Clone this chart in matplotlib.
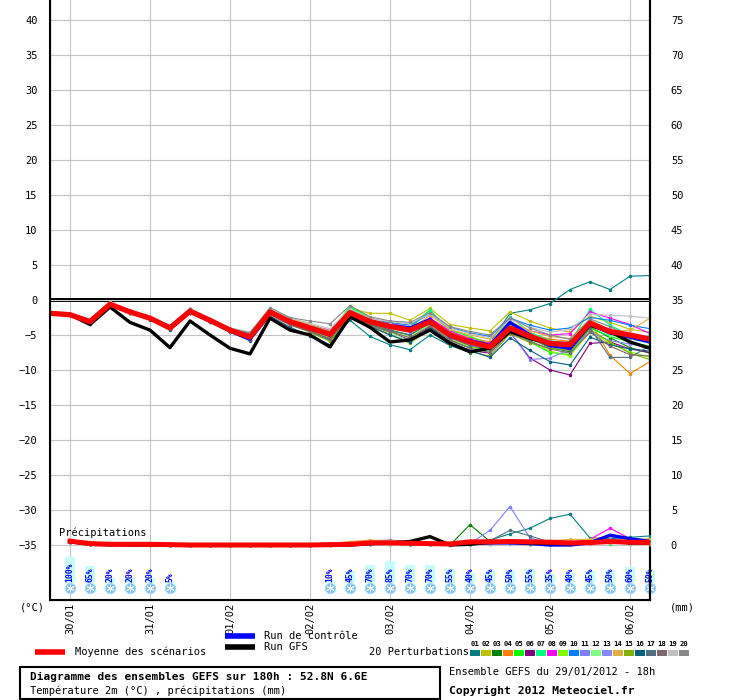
import matplotlib
matplotlib.use("Agg")
import matplotlib.pyplot as plt
from matplotlib.patches import Rectangle
from matplotlib.lines import Line2D

plt.rcParams['font.family'] = ['DejaVu Sans Mono', 'DejaVu Sans']

# ---------------- data ----------------
hours = list(range(0, 181, 6))          # 29/01 18h .. +180h
day_ticks = [6, 30, 54, 78, 102, 126, 150, 174]
day_labels = ["30/01", "31/01", "01/02", "02/02", "03/02", "04/02", "05/02", "06/02"]

temp_mean = [-1.9, -2.1, -3.1, -0.6, -1.7, -2.6, -4.0, -1.6, -2.9, -4.3, -5.3,
             -1.7, -3.1, -4.0, -4.9, -1.8, -3.1, -3.8, -4.3, -3.1, -5.0, -6.0, -6.7, -4.0,
             -5.2, -6.2, -6.4, -3.3, -4.5, -5.0, -5.6]
temp_gfs = [-1.9, -2.1, -3.5, -1.0, -3.2, -4.3, -6.8, -3.0, -5.0, -6.9, -7.7,
            -2.6, -4.3, -5.0, -6.7, -2.4, -3.9, -6.0, -5.7, -4.3, -6.2, -7.4, -6.9, -4.5,
            -5.5, -6.2, -6.2, -3.6, -4.5, -6.0, -6.9]
temp_ctrl = [-1.9, -2.1, -3.0, -0.6, -1.7, -2.6, -3.9, -1.5, -2.9, -4.4, -5.6,
             -1.8, -3.0, -4.1, -5.0, -1.8, -3.0, -3.7, -4.0, -2.8, -5.2, -5.8, -6.5, -3.2,
             -5.0, -6.5, -6.9, -3.5, -4.7, -5.3, -6.0]

temp_m01 = [-1.9, -2.1, -3.0, -0.5, -1.6, -2.5, -3.8, -1.4, -2.8, -4.2, -5.0, -1.9, -3.3, -4.6, -5.8, -2.9, -5.2, -6.4, -7.1, -5.0, -6.5, -7.5, -6.0, -1.9, -1.4, -0.5, 1.5, 2.6, 1.5, 3.4, 3.5]
temp_m02 = [-1.9, -2.0, -2.8, -0.4, -1.6, -2.5, -3.7, -1.3, -2.8, -4.1, -4.8, -1.4, -2.8, -3.5, -4.5, -1.2, -1.9, -1.9, -2.9, -1.2, -3.5, -4.0, -4.4, -1.7, -3.0, -4.0, -4.6, -2.3, -3.2, -4.2, -4.6]
temp_m03 = [-1.9, -2.1, -3.2, -0.7, -1.8, -2.7, -4.1, -1.7, -3.0, -4.4, -5.5, -1.6, -3.2, -4.2, -5.3, -1.5, -3.4, -4.3, -5.0, -3.2, -5.8, -6.8, -7.0, -3.6, -5.5, -6.8, -7.4, -3.8, -5.4, -6.8, -7.6]
temp_m04 = [-1.9, -2.1, -3.1, -0.6, -1.7, -2.6, -3.9, -1.5, -2.9, -4.3, -5.2, -1.8, -3.0, -3.8, -4.6, -1.7, -2.9, -3.5, -4.0, -2.6, -4.6, -5.4, -6.0, -3.4, -4.8, -5.6, -5.9, -3.0, -7.9, -10.5, -8.8]
temp_m05 = [-1.9, -2.0, -2.8, -0.4, -1.6, -2.5, -3.7, -1.3, -2.8, -4.1, -4.8, -1.3, -3.0, -4.0, -4.7, -0.9, -2.6, -3.4, -4.0, -1.5, -4.3, -5.2, -6.3, -3.2, -6.0, -7.5, -7.8, -4.0, -5.2, -6.0, -6.6]
temp_m06 = [-1.9, -2.1, -3.3, -0.8, -1.8, -2.7, -4.2, -1.8, -3.1, -4.5, -5.7, -1.7, -3.4, -4.4, -5.6, -2.0, -3.6, -4.6, -5.7, -3.8, -6.0, -7.2, -7.6, -4.6, -8.3, -10.0, -10.7, -6.2, -6.0, -7.0, -7.5]
temp_m07 = [-1.9, -2.1, -3.0, -0.5, -1.6, -2.5, -3.8, -1.4, -2.8, -4.2, -5.0, -1.5, -2.9, -3.8, -4.8, -1.1, -2.8, -3.4, -3.8, -1.4, -4.8, -5.8, -6.4, -2.4, -4.6, -5.8, -6.2, -1.3, -3.6, -5.0, -5.8]
temp_m08 = [-1.9, -2.1, -3.1, -0.6, -1.7, -2.6, -3.9, -1.5, -2.9, -4.3, -5.2, -1.6, -2.8, -3.6, -4.3, -1.6, -2.6, -3.3, -3.9, -2.6, -4.4, -5.6, -6.2, -3.3, -4.4, -5.0, -4.8, -1.7, -2.6, -3.5, -4.8]
temp_m09 = [-1.9, -2.1, -3.2, -0.7, -1.8, -2.7, -4.1, -1.7, -3.0, -4.4, -5.5, -1.8, -3.3, -4.3, -5.4, -2.3, -3.6, -4.5, -5.3, -3.5, -5.6, -6.6, -7.4, -3.9, -5.8, -7.3, -8.0, -4.5, -6.2, -7.4, -8.2]
temp_m10 = [-1.9, -2.0, -2.8, -0.4, -1.6, -2.5, -3.7, -1.3, -2.8, -4.1, -4.8, -1.5, -2.9, -3.6, -4.4, -1.4, -2.8, -3.2, -3.6, -2.0, -3.9, -4.7, -5.2, -2.6, -3.6, -4.3, -4.0, -2.5, -2.9, -3.6, -4.1]
temp_m11 = [-1.9, -2.1, -3.1, -0.6, -1.7, -2.6, -3.9, -1.5, -2.9, -4.3, -5.2, -1.7, -3.0, -3.9, -4.8, -1.8, -3.4, -4.0, -4.6, -3.4, -5.4, -6.4, -7.0, -4.5, -8.5, -8.3, -7.0, -4.6, -5.8, -6.3, -6.8]
temp_m12 = [-1.9, -2.1, -3.2, -0.7, -1.8, -2.7, -4.1, -1.7, -3.0, -4.4, -5.5, -1.6, -3.2, -4.1, -5.0, -1.6, -3.2, -4.6, -5.9, -3.0, -5.2, -6.2, -7.2, -3.5, -5.7, -6.5, -6.8, -3.5, -5.0, -5.6, -6.2]
temp_m13 = [-1.9, -2.1, -3.0, -0.5, -1.6, -2.5, -3.8, -1.4, -2.8, -4.2, -5.0, -1.8, -3.1, -3.9, -4.9, -1.9, -3.1, -3.9, -4.5, -3.0, -5.2, -6.0, -6.6, -4.2, -5.0, -5.9, -6.3, -3.6, -4.7, -5.4, -6.0]
temp_m14 = [-1.9, -2.0, -2.8, -0.4, -1.6, -2.5, -3.7, -1.3, -2.8, -4.0, -4.6, -1.4, -2.7, -3.5, -4.4, -1.5, -2.6, -3.6, -4.2, -2.2, -4.2, -5.0, -5.6, -3.1, -4.4, -5.2, -5.5, -2.8, -4.5, -4.3, -2.6]
temp_m15 = [-1.9, -2.1, -3.3, -0.8, -1.8, -2.7, -4.2, -1.8, -3.1, -4.5, -5.7, -2.0, -3.5, -4.6, -5.9, -2.3, -3.7, -4.9, -6.2, -4.1, -6.3, -7.4, -8.0, -4.8, -6.1, -6.9, -7.2, -4.2, -6.0, -7.6, -8.5]
temp_m16 = [-1.9, -2.2, -3.4, -0.9, -1.9, -2.8, -4.3, -1.9, -3.2, -4.6, -5.8, -2.3, -3.9, -5.1, -6.4, -2.5, -3.8, -5.0, -6.0, -3.9, -6.0, -7.2, -8.2, -5.4, -7.2, -8.8, -9.3, -5.3, -6.4, -7.0, -7.3]
temp_m17 = [-1.9, -2.1, -3.1, -0.6, -1.7, -2.6, -4.0, -1.6, -2.9, -4.3, -5.3, -1.9, -3.4, -4.3, -5.2, -2.2, -3.5, -4.4, -5.0, -3.3, -5.4, -6.5, -7.1, -4.2, -5.6, -6.6, -7.1, -4.0, -8.2, -8.2, -6.5]
temp_m18 = [-1.9, -2.1, -3.3, -0.8, -1.8, -2.7, -4.2, -1.8, -3.1, -4.5, -5.7, -2.1, -3.6, -4.5, -5.5, -2.6, -3.7, -4.5, -5.4, -3.7, -5.7, -6.9, -7.5, -4.7, -5.9, -7.0, -7.6, -4.6, -6.6, -7.8, -8.0]
temp_m19 = [-1.9, -2.0, -2.7, -0.3, -1.5, -2.4, -3.6, -1.2, -2.7, -4.0, -4.6, -1.3, -2.6, -3.3, -4.1, -1.3, -2.7, -3.1, -3.4, -2.0, -4.0, -4.8, -5.4, -2.8, -3.9, -4.6, -4.2, -2.0, -2.2, -2.3, -2.6]
temp_m20 = [-1.9, -2.0, -2.8, -0.4, -1.5, -2.4, -3.7, -1.3, -2.7, -4.1, -4.7, -1.1, -2.5, -3.0, -3.4, -0.8, -2.4, -3.0, -3.2, -1.8, -3.8, -4.5, -5.0, -2.5, -4.0, -5.0, -5.6, -2.7, -3.8, -5.2, -6.0]

# precipitation (mm) for each 6h step from +6h to +180h
prec_mean = [0.55, 0.2, 0.1, 0.1, 0.1, 0.05, 0, 0, 0, 0, 0, 0, 0, 0.05, 0.1, 0.3, 0.3, 0.25, 0.2, 0.15, 0.45, 0.45, 0.5, 0.45, 0.4, 0.3, 0.35, 0.5, 0.4, 0.35]
prec_ctrl = [0.45, 0.15, 0.1, 0.1, 0.1, 0.05, 0, 0, 0, 0, 0, 0, 0, 0.0, 0.1, 0.2, 0.3, 0.3, 0.2, 0.1, 0.2, 0.3, 0.3, 0.2, 0.0, 0.0, 0.3, 1.4, 0.9, 0.5]
prec_gfs = [0.5, 0.1, 0.05, 0.0, 0.0, 0.0, 0, 0, 0, 0, 0, 0, 0, 0.0, 0.0, 0.2, 0.3, 0.5, 1.2, 0.0, 0.1, 0.4, 0.4, 0.3, 0.2, 0.2, 0.3, 0.5, 0.3, 0.3]
prec_m01 = [0.5, 0.2, 0.1, 0.1, 0.1, 0.0, 0, 0, 0, 0, 0, 0, 0, 0.1, 0.2, 0.2, 0.3, 0.2, 0.2, 0.2, 0.3, 0.7, 1.6, 2.4, 3.8, 4.4, 1.0, 0.9, 1.1, 1.3]
prec_m02 = [0.5, 0.1, 0.1, 0.1, 0.1, 0.0, 0, 0, 0, 0, 0, 0, 0, 0.1, 0.2, 0.3, 0.4, 0.3, 0.2, 0.2, 0.3, 0.3, 0.3, 0.2, 0.3, 0.3, 0.6, 0.8, 0.5, 0.4]
prec_m03 = [0.5, 0.2, 0.1, 0.1, 0.1, 0.1, 0, 0, 0, 0, 0, 0, 0, 0.1, 0.2, 0.3, 0.2, 0.2, 0.2, 0.0, 2.9, 0.5, 0.3, 0.3, 0.2, 0.2, 0.3, 0.5, 0.4, 0.3]
prec_m04 = [0.5, 0.1, 0.1, 0.1, 0.0, 0.0, 0, 0, 0, 0, 0, 0, 0, 0.0, 0.1, 0.5, 0.7, 0.4, 0.3, 0.2, 0.3, 0.3, 0.4, 0.3, 0.2, 0.2, 0.4, 0.6, 0.5, 0.8]
prec_m05 = [0.6, 0.2, 0.1, 0.1, 0.1, 0.0, 0, 0, 0, 0, 0, 0, 0, 0.1, 0.1, 0.3, 0.3, 0.2, 0.1, 0.1, 0.2, 0.2, 0.3, 0.2, 0.2, 0.2, 0.5, 0.2, 0.3, 0.3]
prec_m06 = [0.5, 0.1, 0.1, 0.1, 0.1, 0.1, 0, 0, 0, 0, 0, 0, 0, 0.0, 0.1, 0.2, 0.2, 0.3, 0.2, 0.1, 0.2, 0.4, 0.4, 0.3, 0.2, 0.2, 0.3, 0.4, 0.3, 0.2]
prec_m07 = [0.4, 0.2, 0.1, 0.1, 0.1, 0.0, 0, 0, 0, 0, 0, 0, 0, 0.1, 0.2, 0.2, 0.3, 0.2, 0.2, 0.1, 0.2, 0.2, 0.2, 0.3, 0.2, 0.2, 0.4, 0.6, 0.3, 0.3]
prec_m08 = [0.5, 0.2, 0.1, 0.1, 0.1, 0.0, 0, 0, 0, 0, 0, 0, 0, 0.1, 0.2, 0.3, 0.3, 0.2, 0.1, 0.1, 0.3, 0.3, 0.3, 0.2, 0.2, 0.3, 0.8, 2.4, 0.9, 0.5]
prec_m09 = [0.5, 0.1, 0.1, 0.1, 0.1, 0.0, 0, 0, 0, 0, 0, 0, 0, 0.1, 0.1, 0.2, 0.2, 0.2, 0.1, 0.1, 0.2, 0.3, 0.3, 0.2, 0.2, 0.3, 0.5, 0.3, 0.2, 0.2]
prec_m10 = [0.6, 0.2, 0.1, 0.1, 0.1, 0.0, 0, 0, 0, 0, 0, 0, 0, 0.1, 0.2, 0.3, 0.3, 0.2, 0.2, 0.2, 0.3, 0.4, 0.3, 0.2, 0.2, 0.3, 0.6, 1.2, 0.8, 0.4]
prec_m11 = [0.5, 0.2, 0.1, 0.1, 0.1, 0.1, 0, 0, 0, 0, 0, 0, 0, 0.1, 0.2, 0.6, 0.7, 0.4, 0.2, 0.1, 0.2, 2.1, 5.5, 1.0, 0.2, 0.2, 0.4, 0.6, 0.4, 0.3]
prec_m12 = [0.5, 0.1, 0.1, 0.1, 0.1, 0.0, 0, 0, 0, 0, 0, 0, 0, 0.0, 0.1, 0.2, 0.2, 0.2, 0.1, 0.1, 0.2, 0.2, 0.2, 0.2, 0.2, 0.2, 0.3, 0.4, 0.3, 0.2]
prec_m13 = [0.5, 0.2, 0.1, 0.1, 0.1, 0.0, 0, 0, 0, 0, 0, 0, 0, 0.1, 0.2, 0.3, 0.6, 0.3, 0.2, 0.1, 0.3, 0.3, 0.3, 0.3, 0.2, 0.2, 0.5, 0.8, 0.6, 0.4]
prec_m14 = [0.5, 0.2, 0.1, 0.1, 0.1, 0.0, 0, 0, 0, 0, 0, 0, 0, 0.2, 0.5, 0.7, 0.6, 0.4, 0.3, 0.2, 0.3, 0.4, 0.4, 0.4, 0.6, 0.8, 0.8, 1.3, 0.8, 0.9]
prec_m15 = [0.4, 0.1, 0.1, 0.1, 0.0, 0.0, 0, 0, 0, 0, 0, 0, 0, 0.0, 0.1, 0.2, 0.2, 0.2, 0.1, 0.1, 0.2, 0.3, 0.3, 0.2, 0.2, 0.2, 0.4, 0.3, 0.2, 0.2]
prec_m16 = [0.5, 0.2, 0.1, 0.1, 0.1, 0.0, 0, 0, 0, 0, 0, 0, 0, 0.1, 0.1, 0.2, 0.3, 0.2, 0.1, 0.1, 0.2, 0.3, 0.4, 0.3, 0.2, 0.2, 0.3, 0.6, 0.5, 0.4]
prec_m17 = [0.5, 0.1, 0.1, 0.1, 0.1, 0.0, 0, 0, 0, 0, 0, 0, 0, 0.1, 0.2, 0.2, 0.3, 0.2, 0.1, 0.1, 0.2, 0.6, 2.1, 1.3, 0.4, 0.2, 0.3, 0.5, 0.3, 0.3]
prec_m18 = [0.5, 0.2, 0.1, 0.1, 0.1, 0.0, 0, 0, 0, 0, 0, 0, 0, 0.0, 0.1, 0.2, 0.2, 0.2, 0.1, 0.1, 0.2, 0.2, 0.3, 0.2, 0.2, 0.2, 0.3, 0.3, 0.2, 0.2]
prec_m19 = [0.4, 0.1, 0.1, 0.1, 0.1, 0.0, 0, 0, 0, 0, 0, 0, 0, 0.1, 0.1, 0.2, 0.2, 0.2, 0.1, 0.1, 0.1, 0.2, 0.2, 0.2, 0.1, 0.2, 0.3, 0.3, 0.2, 0.2]
prec_m20 = [0.5, 0.2, 0.1, 0.1, 0.1, 0.0, 0, 0, 0, 0, 0, 0, 0, 0.1, 0.2, 0.3, 0.3, 0.2, 0.2, 0.1, 0.2, 0.3, 0.3, 0.2, 0.2, 0.2, 0.3, 0.4, 0.3, 0.2]

# snow probability (%) per time step, 0 = no symbol
snow_pct = [0, 100, 65, 20, 20, 20, 5, 0, 0, 0, 0, 0, 0, 0, 10, 45, 70, 85, 70, 70,
            55, 40, 45, 50, 55, 35, 40, 45, 50, 60, 50]

member_labels = ["01", "02", "03", "04", "05", "06", "07", "08", "09", "10",
                 "11", "12", "13", "14", "15", "16", "17", "18", "19", "20"]
member_colors = ["#008080", "#C0C000", "#008000", "#FF8000", "#00FF00", "#800080",
                 "#00FF80", "#FF00FF", "#80FF00", "#0080FF", "#8080FF", "#80FF80",
                 "#8888FF", "#E0B040", "#80B000", "#006080", "#507080", "#806870",
                 "#C0C0C0", "#888888"]
temp_members = [temp_m01, temp_m02, temp_m03, temp_m04, temp_m05, temp_m06, temp_m07,
                temp_m08, temp_m09, temp_m10, temp_m11, temp_m12, temp_m13, temp_m14,
                temp_m15, temp_m16, temp_m17, temp_m18, temp_m19, temp_m20]
prec_members = [prec_m01, prec_m02, prec_m03, prec_m04, prec_m05, prec_m06, prec_m07,
                prec_m08, prec_m09, prec_m10, prec_m11, prec_m12, prec_m13, prec_m14,
                prec_m15, prec_m16, prec_m17, prec_m18, prec_m19, prec_m20]

# ---------------- figure ----------------
W, H = 740, 700
fig = plt.figure(figsize=(W / 100, H / 100), dpi=100)
fig.patch.set_facecolor("white")

def fx(px):
    return px / W

def fy(py):
    return 1 - py / H

ax = fig.add_axes([fx(50), fy(600), 600 / W, 600 / H])
YL = 600 / 14.0  # 7 px per degree, 0 at centre
ax.set_xlim(0, 180)
ax.set_ylim(-YL, YL)

ax2 = ax.twinx()
ax2.set_ylim(-YL + 35, YL + 35)

# grid
ax.set_yticks(list(range(-35, 45, 5)))
ax.set_xticks(day_ticks)
ax.set_xticklabels(day_labels, rotation=90)
ax.grid(True, color="#C4C4C4", lw=0.8)
ax.set_axisbelow(True)
ax.tick_params(axis="both", length=0, labelsize=7.5, colors="black")
ax.tick_params(axis="y", pad=9)
ax.tick_params(axis="x", pad=2)
for s in ["top"]:
    ax.spines[s].set_visible(False)
for s in ["left", "bottom", "right"]:
    ax.spines[s].set_linewidth(1.5)
    ax.spines[s].set_color("black")

ax2.set_yticks(list(range(0, 80, 5)))
ax2.tick_params(axis="y", length=0, labelsize=7.5, pad=15)
ax2.spines["top"].set_visible(False)
ax2.spines["right"].set_linewidth(1.5)

# freezing line (double black)
ax.axhline(0, color="black", lw=2.8, zorder=2)
ax.axhline(0, color="white", lw=0.6, zorder=2.1)

# temperature members
for vals, col in zip(temp_members, member_colors):
    ax.plot(hours, vals, color=col, lw=0.8, marker="o", ms=1.5, mec=col, zorder=3)
ax.plot(hours, temp_ctrl, color="#0000FF", lw=2.4, zorder=4)
ax.plot(hours, temp_gfs, color="black", lw=2.4, zorder=4.5)
ax.plot(hours, temp_mean, color="#FF0000", lw=3.8, zorder=5)

# precipitation on the right-hand scale
ph = hours[1:]
for vals, col in zip(prec_members, member_colors):
    ax2.plot(ph, vals, color=col, lw=0.8, marker="o", ms=1.5, mec=col, zorder=3)
ax2.plot(ph, prec_ctrl, color="#0000FF", lw=2.4, zorder=4)
ax2.plot(ph, prec_gfs, color="black", lw=2.4, zorder=4.5)
ax2.plot(ph, prec_mean, color="#FF0000", lw=3.6, zorder=5)

ax.text(2.7, (300 - 533) / 7, "Précipitations", fontsize=7.5, va="center", ha="left", zorder=6)

# snow symbols with probability bars
base = (300 - 583) / 7.0
for h, p in zip(hours, snow_pct):
    if p <= 0:
        continue
    hgt = p * 0.26 / 7.0
    ax.add_patch(Rectangle((h - 1.5, base), 3.0, hgt, facecolor="#C8FCFC",
                           edgecolor="none", zorder=6, clip_on=False))
    ax.text(h, base + 0.15, f"{p}%", rotation=90, ha="center", va="bottom",
            fontsize=5.8, color="#0000FF", fontweight="bold", zorder=7, clip_on=False)
    ax.plot([h], [(300 - 588) / 7.0], marker="o", ms=7.5, mfc="#7CC4EE", mec="#A8D8F4",
            mew=0.6, zorder=7, clip_on=False)
    ax.plot([h], [(300 - 588) / 7.0], marker=(6, 2, 0), ms=5.5, mec="white",
            mew=0.6, zorder=8, clip_on=False)

# unit labels
fig.text(fx(20), fy(607), "(°C)", fontsize=7.5, ha="left", va="center")
fig.text(fx(670), fy(607), "(mm)", fontsize=7.5, ha="left", va="center")

# ---------------- legend ----------------
def fig_line(x0, x1, y, col):
    fig.add_artist(Line2D([fx(x0), fx(x1)], [fy(y), fy(y)], color=col, lw=4,
                          transform=fig.transFigure, solid_capstyle="butt"))

fig_line(35, 65, 652, "#FF0000")
fig.text(fx(75), fy(652), "Moyenne des scénarios", fontsize=7.5, va="center", ha="left")
fig_line(225, 255, 636, "#0000FF")
fig.text(fx(264), fy(636), "Run de contrôle", fontsize=7.5, va="center", ha="left")
fig_line(225, 255, 647, "black")
fig.text(fx(264), fy(647), "Run GFS", fontsize=7.5, va="center", ha="left")

fig.text(fx(369), fy(652), "20 Perturbations", fontsize=7.5, va="center", ha="left")
for k, (lab, col) in enumerate(zip(member_labels, member_colors)):
    x0 = 470 + k * 11
    fig.add_artist(Rectangle((fx(x0), fy(656)), 10 / W, 6 / H, facecolor=col,
                             edgecolor="none", transform=fig.transFigure))
    fig.text(fx(x0 + 5), fy(644), lab, fontsize=5.2, fontweight="bold",
             ha="center", va="center")

fig.add_artist(Rectangle((fx(20), fy(699)), 420 / W, 32 / H, facecolor="none",
                         edgecolor="black", lw=1.5, transform=fig.transFigure))
fig.text(fx(30), fy(677), "Diagramme des ensembles GEFS sur 180h : 52.8N 6.6E",
         fontsize=8.0, fontweight="bold", va="center", ha="left")
fig.text(fx(30), fy(691), "Température 2m (°C) , précipitations (mm)",
         fontsize=7.5, va="center", ha="left")
fig.text(fx(449), fy(672), "Ensemble GEFS du 29/01/2012 - 18h",
         fontsize=7.5, va="center", ha="left")
fig.text(fx(449), fy(691), "Copyright 2012 Meteociel.fr",
         fontsize=8.2, fontweight="bold", va="center", ha="left")

fig.savefig("out.png", dpi=100)
